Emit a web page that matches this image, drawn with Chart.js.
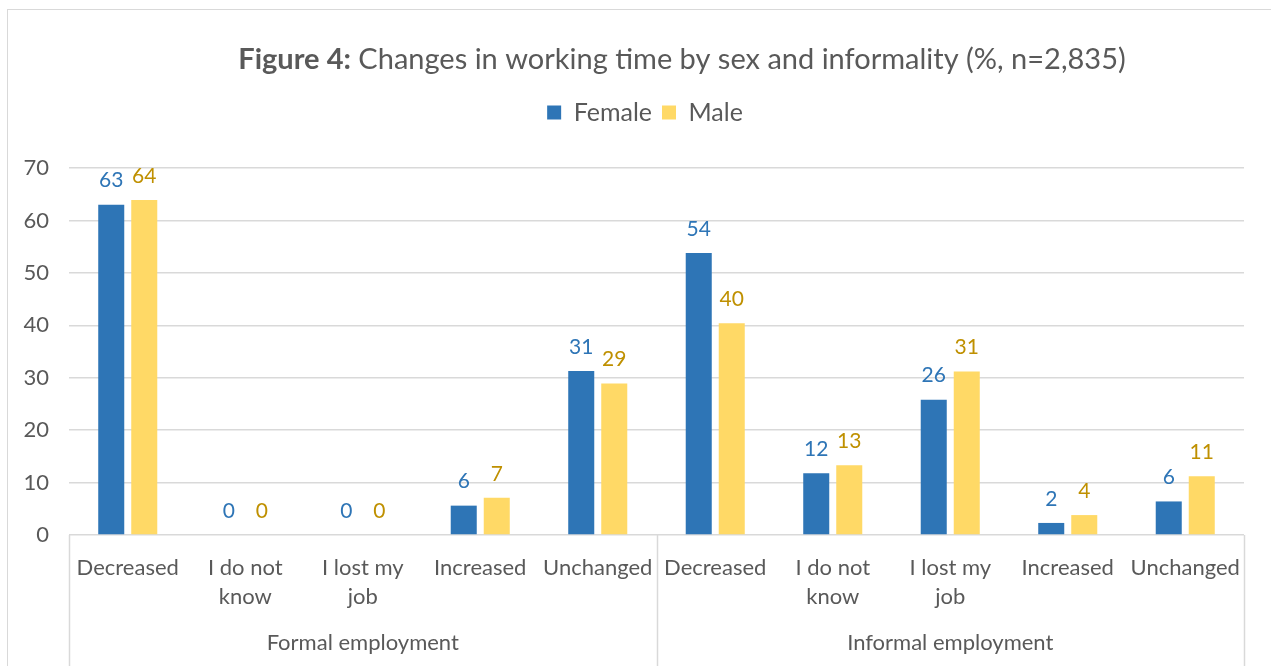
<!DOCTYPE html>
<html lang="en">

<head>
    <meta charset="UTF-8">
    <title>Changes in working time by sex and informality</title>
    <script src="https://cdn.jsdelivr.net/npm/chart.js"></script>
    <style>
        body {
            margin: 0;
            background-color: #ffffff;
            overflow: hidden;
            width: 1271px;
            height: 666px;
        }

        .frame {
            position: absolute;
            left: 7px;
            top: 9px;
            width: 1400px;
            height: 800px;
            border: 1px solid #d9d9d9;
        }

        canvas {
            position: absolute;
            left: 0;
            top: 0;
        }
    </style>
</head>

<body>
    <div class="frame"></div>
    <canvas id="workingTime" width="1290" height="666"></canvas>

    <script>
        const categorias = [
            ['Decreased'], ['I do not', 'know'], ['I lost my', 'job'], ['Increased'], ['Unchanged'],
            ['Decreased'], ['I do not', 'know'], ['I lost my', 'job'], ['Increased'], ['Unchanged']
        ];
        const grupos = ['Formal employment', 'Informal employment'];
        const female = [63.0, 0, 0, 5.6, 31.3, 53.8, 11.8, 25.8, 2.3, 6.4];
        const male = [63.9, 0, 0, 7.1, 28.9, 40.4, 13.3, 31.2, 3.8, 11.2];
        const yTicks = [0, 10, 20, 30, 40, 50, 60, 70];

        const FONT = 'Lato, "Open Sans", sans-serif';
        const TEXT = '#595959';
        const GRID = '#d9d9d9';

        // titulo com "Figure 4:" em negrito
        const tituloPlugin = {
            id: 'tituloMisto',
            afterDraw(chart) {
                const ctx = chart.ctx;
                const bold = 'Figure 4:';
                const rest = ' Changes in working time by sex and informality (%, n=2,835)';
                ctx.save();
                ctx.fillStyle = TEXT;
                ctx.textBaseline = 'middle';
                ctx.font = 'bold 29px ' + FONT;
                const w1 = ctx.measureText(bold).width;
                ctx.font = '29px ' + FONT;
                const w2 = ctx.measureText(rest).width;
                let x = 682 - (w1 + w2) / 2;
                ctx.textAlign = 'left';
                ctx.font = 'bold 29px ' + FONT;
                ctx.fillText(bold, x, 60);
                ctx.font = '29px ' + FONT;
                ctx.fillText(rest, x + w1, 60);
                ctx.restore();
            }
        };

        // valores acima das barras
        const rotulosPlugin = {
            id: 'rotulos',
            afterDatasetsDraw(chart) {
                const ctx = chart.ctx;
                const cores = ['#2e75b6', '#bf9000'];
                ctx.save();
                ctx.font = '21px ' + FONT;
                ctx.textAlign = 'center';
                ctx.textBaseline = 'middle';
                chart.data.datasets.forEach((ds, i) => {
                    const meta = chart.getDatasetMeta(i);
                    ctx.fillStyle = cores[i];
                    meta.data.forEach((bar, j) => {
                        ctx.fillText(String(Math.round(ds.data[j])), bar.x, bar.y - 24);
                    });
                });
                ctx.restore();
            }
        };

        // linhas verticais que separam os grupos no eixo x
        const divisoriasPlugin = {
            id: 'divisorias',
            afterDraw(chart) {
                const ctx = chart.ctx;
                const area = chart.chartArea;
                const xs = chart.scales.x;
                const meio = (xs.getPixelForValue(4) + xs.getPixelForValue(5)) / 2;
                ctx.save();
                ctx.strokeStyle = GRID;
                ctx.lineWidth = 1.5;
                [area.left, meio, area.right].forEach(px => {
                    ctx.beginPath();
                    ctx.moveTo(Math.round(px) + 0.5, area.bottom);
                    ctx.lineTo(Math.round(px) + 0.5, 666);
                    ctx.stroke();
                });
                ctx.restore();
            }
        };

        // espaço extra abaixo da legenda e legenda um pouco à direita
        const margemLegenda = {
            id: 'margemLegenda',
            beforeInit(chart) {
                const fitOriginal = chart.legend.fit;
                chart.legend.fit = function () {
                    fitOriginal.bind(chart.legend)();
                    this.height += 33;
                };
            },
            afterLayout(chart) {
                chart.legend.left += 23;
                chart.legend.right += 23;
            }
        };

        function renderChart() {
            const ctx = document.getElementById('workingTime').getContext('2d');

            new Chart(ctx, {
                type: 'bar',
                data: {
                    labels: categorias,
                    datasets: [{
                        label: 'Female',
                        data: female,
                        backgroundColor: '#2e75b6'
                    }, {
                        label: 'Male',
                        data: male,
                        backgroundColor: '#ffd966'
                    }]
                },
                options: {
                    responsive: false,
                    animation: false,
                    categoryPercentage: 0.562,
                    barPercentage: 0.788,
                    layout: {
                        padding: { top: 90, left: 0, right: 46, bottom: 0 }
                    },
                    plugins: {
                        legend: {
                            position: 'top',
                            labels: {
                                boxWidth: 14,
                                boxHeight: 14,
                                color: TEXT,
                                font: { family: FONT, size: 25 }
                            }
                        },
                        tooltip: { enabled: false }
                    },
                    scales: {
                        x: {
                            weight: 0,
                            grid: { display: false },
                            border: { display: false },
                            ticks: {
                                color: TEXT,
                                font: { family: FONT, size: 22, lineHeight: 1.32 },
                                padding: 10,
                                maxRotation: 0,
                                autoSkip: false
                            },
                            afterFit: s => { s.height = 75; }
                        },
                        x2: {
                            type: 'category',
                            position: 'bottom',
                            weight: 1,
                            labels: grupos,
                            offset: true,
                            grid: { display: false },
                            border: { display: false },
                            ticks: {
                                color: TEXT,
                                font: { family: FONT, size: 22, lineHeight: 1.32 },
                                padding: 10,
                                maxRotation: 0
                            },
                            afterFit: s => { s.height = 56; }
                        },
                        y: {
                            min: 0,
                            max: 70,
                            afterBuildTicks: s => { s.ticks = yTicks.map(v => ({ value: v })); },
                            grid: { color: GRID, lineWidth: 1.5, drawTicks: false },
                            border: { display: false },
                            ticks: {
                                color: TEXT,
                                font: { family: FONT, size: 22 },
                                padding: 20
                            },
                            afterFit: s => { s.width = 69; }
                        }
                    }
                },
                plugins: [tituloPlugin, rotulosPlugin, divisoriasPlugin, margemLegenda]
            });
        }

        document.addEventListener('DOMContentLoaded', renderChart);
    </script>
</body>

</html>
